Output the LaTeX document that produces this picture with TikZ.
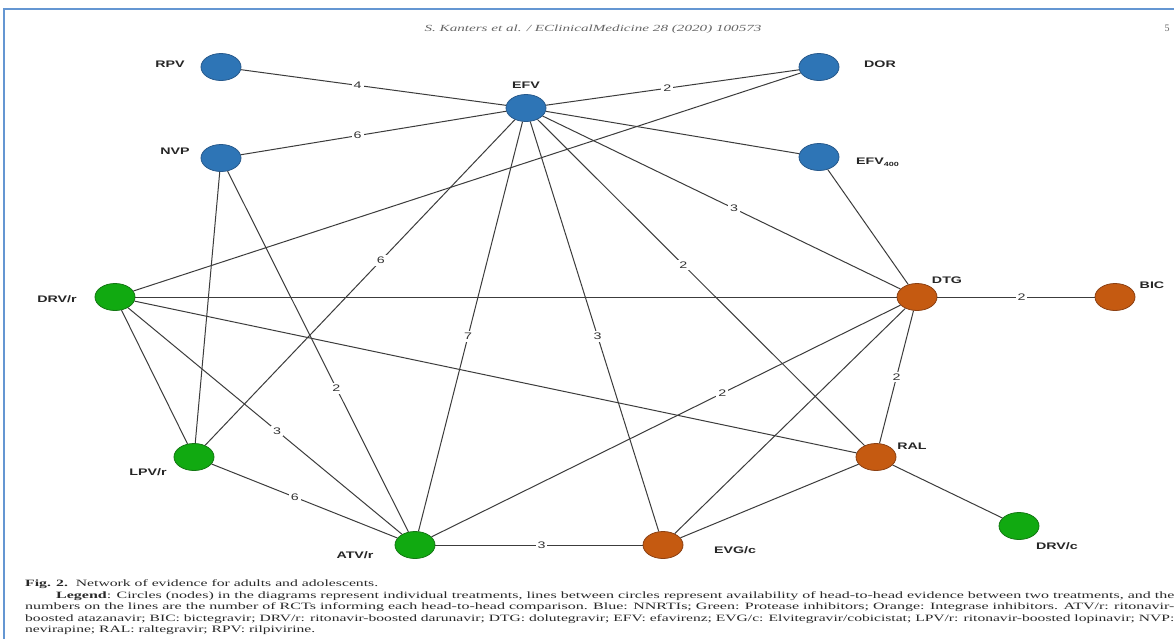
\documentclass[tikz,border=0pt]{standalone}
\usepackage{fontspec}
\setmainfont{Liberation Serif}
\newfontfamily\lblfont[FakeStretch=1.5]{Liberation Sans}
\usetikzlibrary{shapes.geometric}
\definecolor{nblue}{RGB}{46,117,182}
\definecolor{nblueline}{RGB}{40,90,140}
\definecolor{ngreen}{RGB}{17,170,17}
\definecolor{ngreenline}{RGB}{20,120,20}
\definecolor{norange}{RGB}{197,90,17}
\definecolor{norangeline}{RGB}{140,65,20}
\definecolor{frameblue}{RGB}{100,150,210}
\definecolor{edgegray}{RGB}{60,60,60}
\definecolor{captext}{RGB}{40,40,40}
\tikzset{
  drug/.style={ellipse, minimum width=40pt, minimum height=27pt, inner sep=0pt, line width=0.8pt},
  bnode/.style={drug, fill=nblue, draw=nblueline},
  gnode/.style={drug, fill=ngreen, draw=ngreenline},
  onode/.style={drug, fill=norange, draw=norangeline},
  nlabel/.style={inner sep=0pt, font=\lblfont\bfseries\fontsize{9.5}{10}\selectfont, text=black!85},
  edge/.style={draw=edgegray, line width=1pt},
  elab/.style={fill=white, inner sep=2pt, font=\lblfont\fontsize{9.5}{10}\selectfont, text=black!80},
  capline/.style={anchor=base west, inner sep=0pt, text=captext},
}
\begin{document}
\begin{tikzpicture}[x=1pt,y=-1pt]
\useasboundingbox (0,0) rectangle (1174,638);
\fill[white] (0,0) rectangle (1174,638);
\draw[frameblue, line width=1.6pt] (4,9) rectangle (1200,660);

% header
\node[anchor=base, inner sep=0pt, text=black!60] (hdr) at (593,31)
  {\resizebox{337pt}{6.5pt}{\itshape S. Kanters et al. / EClinicalMedicine 28 (2020) 100573}};
\node[anchor=base, inner sep=0pt, text=black!60] (pg) at (1167,31) {\resizebox{5pt}{6.5pt}{5}};

% drug nodes
\node[bnode] (RPV) at (221,67) {};
\node[bnode] (DOR) at (819,67) {};
\node[bnode] (EFV) at (526,108) {};
\node[bnode] (NVP) at (221,158) {};
\node[bnode] (EFVf) at (819,157) {};
\node[gnode] (DRVr) at (115,297) {};
\node[onode] (DTG) at (917,297) {};
\node[onode] (BIC) at (1115,297) {};
\node[gnode] (LPVr) at (194,457) {};
\node[onode] (RAL) at (876,457) {};
\node[gnode] (DRVc) at (1019,526) {};
\node[gnode] (ATVr) at (415,545) {};
\node[onode] (EVGc) at (663,545) {};

% node labels
\node[nlabel] (tRPV) at (170,64) {RPV};
\node[nlabel] (tDOR) at (880,64) {DOR};
\node[nlabel] (tEFV) at (526,85) {EFV};
\node[nlabel] (tNVP) at (175,151) {NVP};
\node[nlabel, anchor=west] (tEFVf) at (856,162) {EFV\raisebox{-2.2pt}{\fontsize{6}{6}\selectfont 400}};
\node[nlabel] (tDRVr) at (57,299) {DRV/r};
\node[nlabel] (tDTG) at (947,280) {DTG};
\node[nlabel] (tBIC) at (1152,285) {BIC};
\node[nlabel] (tLPVr) at (148,472) {LPV/r};
\node[nlabel] (tRAL) at (912,446) {RAL};
\node[nlabel] (tDRVc) at (1057,546) {DRV/c};
\node[nlabel] (tATVr) at (355,555) {ATV/r};
\node[nlabel] (tEVGc) at (735,550) {EVG/c};

% connectors
\draw[edge] (RPV) -- node[elab, pos=0.44] {4} (EFV);
\draw[edge] (NVP) -- node[elab, pos=0.44] {6} (EFV);
\draw[edge] (EFV) -- node[elab, pos=0.48] {2} (DOR);
\draw[edge] (EFV) -- (EFVf);
\draw[edge] (EFV) -- node[elab, pos=0.535] {3} (DTG);
\draw[edge] (EFV) -- node[elab, pos=0.446] {2} (RAL);
\draw[edge] (EFV) -- node[elab, pos=0.524] {3} (EVGc);
\draw[edge] (EFV) -- node[elab, pos=0.524] {7} (ATVr);
\draw[edge] (LPVr) -- node[elab, pos=0.567] {6} (EFV);
\draw[edge] (NVP) -- (LPVr);
\draw[edge] (NVP) -- node[elab, pos=0.602] {2} (ATVr);
\draw[edge] (DRVr) -- (LPVr);
\draw[edge] (DRVr) -- node[elab, pos=0.544] {3} (ATVr);
\draw[edge] (DRVr) -- (DTG);
\draw[edge] (DRVr) -- (RAL);
\draw[edge] (DRVr) -- (DOR);
\draw[edge] (LPVr) -- node[elab, pos=0.448] {6} (ATVr);
\draw[edge] (ATVr) -- node[elab, pos=0.512] {3} (EVGc);
\draw[edge] (ATVr) -- node[elab, pos=0.62] {2} (DTG);
\draw[edge] (EVGc) -- (DTG);
\draw[edge] (EVGc) -- (RAL);
\draw[edge] (DTG) -- node[elab, pos=0.535] {2} (BIC);
\draw[edge] (DTG) -- node[elab, pos=0.5] {2} (RAL);
\draw[edge] (EFVf) -- (DTG);
\draw[edge] (RAL) -- (DRVc);

% caption
\node[capline] (c1) at (25,586) {\resizebox{353pt}{6.8pt}{\textbf{Fig. 2.}\enspace Network of evidence for adults and adolescents.}};
\node[capline] (c2) at (56,598) {\resizebox{1118pt}{6.8pt}{\textbf{Legend}: Circles (nodes) in the diagrams represent individual treatments, lines between circles represent availability of head-to-head evidence between two treatments, and the}};
\node[capline] (c3) at (25,609.5) {\resizebox{1149pt}{6.8pt}{numbers on the lines are the number of RCTs informing each head-to-head comparison. Blue: NNRTIs; Green: Protease inhibitors; Orange: Integrase inhibitors. ATV/r: ritonavir-}};
\node[capline] (c4) at (25,621) {\resizebox{1149pt}{6.8pt}{boosted atazanavir; BIC: bictegravir; DRV/r: ritonavir-boosted darunavir; DTG: dolutegravir; EFV: efavirenz; EVG/c: Elvitegravir/cobicistat; LPV/r: ritonavir-boosted lopinavir; NVP:}};
\node[capline] (c5) at (25,632.5) {\resizebox{290pt}{6.8pt}{nevirapine; RAL: raltegravir; RPV: rilpivirine.}};
\end{tikzpicture}
\end{document}
